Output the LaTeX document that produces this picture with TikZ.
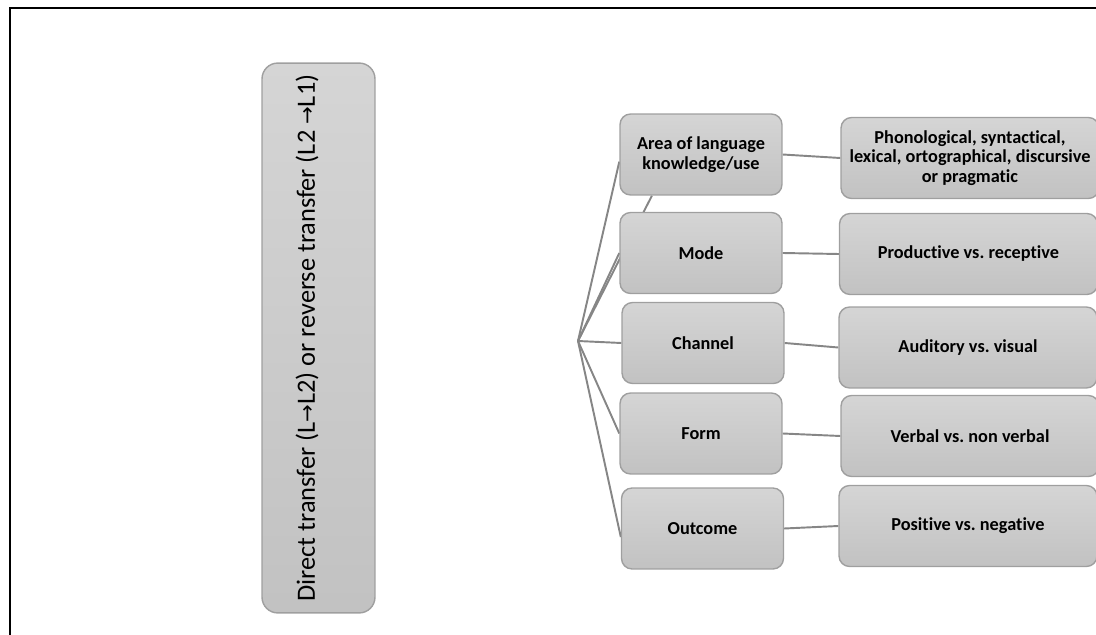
\documentclass[tikz,border=0pt]{standalone}
\usepackage{fontspec}
\setmainfont[Ligatures=NoCommon]{Carlito}
\newfontfamily\arrowfont{DejaVu Sans}
\usetikzlibrary{backgrounds}
\frenchspacing

\newcommand{\toarrow}{{\arrowfont\fontsize{12}{12}\selectfont →}}

\begin{document}
\begin{tikzpicture}[x=0.02cm, y=-0.02cm,
  box/.style={draw=gray!75, line width=0.8pt, rounded corners=6pt,
    top color=gray!33, bottom color=gray!48, align=center, font=\bfseries\fontsize{10.4}{11}\selectfont},
  kind/.style={box, minimum width=3.24cm, minimum height=1.62cm},
  value/.style={box, minimum width=5.16cm, minimum height=1.62cm},
  link/.style={draw=gray!95, line width=1.1pt}]
\useasboundingbox (0,0) rectangle (1096,635);
% frame
\draw[line width=1.4pt] (10,700) -- (10,8) -- (1120,8);
% transfer direction
\node[box, rounded corners=9pt, minimum width=11cm, minimum height=2.26cm, rotate=90] (dir) at (318.5,338) {};
\node[rotate=90, font=\fontsize{15}{18}\selectfont] (dirtext) at (307,338)
  {Direct transfer (L\toarrow L2) or reverse transfer (L2 \toarrow L1)};
\coordinate (hub) at (578,341);
% dimensions
\node[kind] (area) at (701,154.5) {Area of language\\knowledge/use};
\node[kind] (mode) at (701,253) {Mode};
\node[kind] (channel) at (703,343) {Channel};
\node[kind] (form) at (701,433.5) {Form};
\node[kind] (outcome) at (702.5,528.5) {Outcome};
% values
\node[value] (areaval) at (970,158) {Phonological, syntactical,\\lexical, ortographical, discursive\\or pragmatic};
\node[value] (modeval) at (968.5,254) {Productive vs. receptive};
\node[value] (channelval) at (968,347.5) {Auditory vs. visual};
\node[value] (formval) at (970,436) {Verbal vs. non verbal};
\node[value] (outcomeval) at (968,526) {Positive vs. negative};
% connectors
\begin{scope}[on background layer]
\draw[link] (hub) -- (area.185);
\draw[link] (hub) -- (area.220);
\draw[link] (hub) -- (mode.west);
\draw[link] (hub) -- (channel.west);
\draw[link] (hub) -- (form.west);
\draw[link] (hub) -- (outcome.186);
\draw[link] (area.east) -- (areaval.west);
\draw[link] (mode.east) -- (modeval.west);
\draw[link] (channel.east) -- (channelval.west);
\draw[link] (form.east) -- (formval.west);
\draw[link] (outcome.east) -- (outcomeval.west);
\end{scope}
\end{tikzpicture}
\end{document}
